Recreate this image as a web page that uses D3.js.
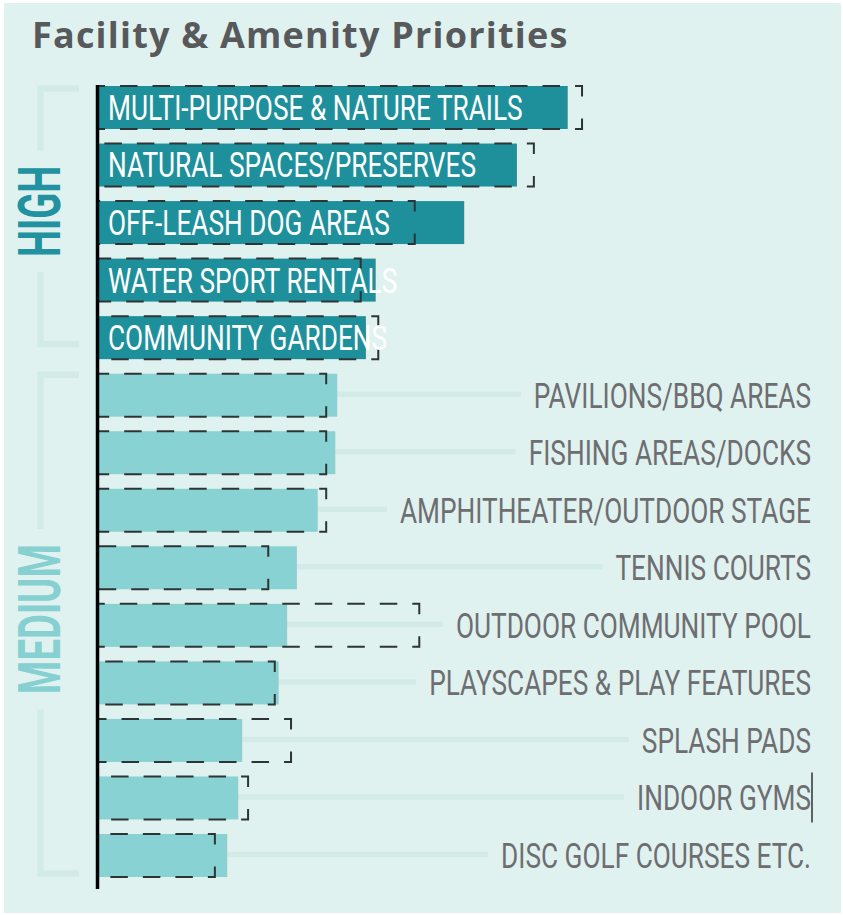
<!DOCTYPE html>
<html>
<head>
<meta charset="utf-8">
<script src="https://cdn.jsdelivr.net/npm/d3@7"></script>
<style>
  body { margin: 0; background: #fff; }
  svg { display: block; }
</style>
</head>
<body>
<svg id="chart" width="843" height="915"></svg>
<script>
// chart data
const title = 'Facility & Amenity Priorities';
const facilities = [
    'MULTI-PURPOSE & NATURE TRAILS',
    'NATURAL SPACES/PRESERVES',
    'OFF-LEASH DOG AREAS',
    'WATER SPORT RENTALS',
    'COMMUNITY GARDENS',
    'PAVILIONS/BBQ AREAS',
    'FISHING AREAS/DOCKS',
    'AMPHITHEATER/OUTDOOR STAGE',
    'TENNIS COURTS',
    'OUTDOOR COMMUNITY POOL',
    'PLAYSCAPES & PLAY FEATURES',
    'SPLASH PADS',
    'INDOOR GYMS',
    'DISC GOLF COURSES ETC.'
];
const priority = ['HIGH', 'HIGH', 'HIGH', 'HIGH', 'HIGH',
    'MEDIUM', 'MEDIUM', 'MEDIUM', 'MEDIUM', 'MEDIUM', 'MEDIUM', 'MEDIUM', 'MEDIUM', 'MEDIUM'];
const scores = [72.0, 64.2, 56.1, 42.5, 41.0, 36.6, 36.3, 33.6, 30.4, 28.9, 27.6, 22.0, 21.4, 19.7];
const benchmarks = [74.2, 66.8, 48.5, 40.2, 42.9, 34.9, 34.9, 34.9, 26.0, 49.2, 27.0, 29.5, 22.9, 17.8];
const groups = ['HIGH', 'MEDIUM'];
const cursorAfter = 'INDOOR GYMS';

const colors = {HIGH: '#1e909c', MEDIUM: '#88d2d3'};
const groupTextColors = {HIGH: '#2292a0', MEDIUM: '#87d0d1'};
const guideColor = '#d2ebe7';

const svg = d3.select('#chart');

// panel
svg.append('rect')
    .attr('x', 4).attr('y', 3)
    .attr('width', 837).attr('height', 910)
    .attr('fill', '#e0f2f0');

svg.append('text')
    .attr('x', 32).attr('y', 48)
    .attr('font-family', '"Open Sans", Lato, sans-serif')
    .attr('font-weight', 700)
    .attr('font-size', 36)
    .attr('letter-spacing', 1.2)
    .attr('fill', '#58595b')
    .text(title);

// scales
let x = d3.scaleLinear().domain([0, 100]).range([99, 750]);
let y = d3.scaleBand().domain(facilities).range([86, 877]).paddingInner(0.253).paddingOuter(0);
let bw = y.bandwidth();

let rows = facilities.map((name, i) => {
    return {name: name, group: priority[i], score: scores[i], bench: benchmarks[i]};
});

let guideLayer = svg.append('g');
let barLayer = svg.append('g');
let boxLayer = svg.append('g');
let labelLayer = svg.append('g');

// bars
barLayer.selectAll('rect')
    .data(rows)
    .enter().append('rect')
    .attr('x', x(0))
    .attr('y', d => y(d.name))
    .attr('width', d => x(d.score) - x(0))
    .attr('height', bw)
    .attr('fill', d => colors[d.group]);

// dashed benchmark boxes, dash phase anchored on the right edge
boxLayer.selectAll('path')
    .data(rows)
    .enter().append('path')
    .attr('d', d => {
        let top = y(d.name), bot = top + bw, mid = top + bw / 2;
        let x1 = x(d.bench), x0 = x(0);
        return `M${x1},${mid}V${top}H${x0}M${x1},${mid}V${bot}H${x0}`;
    })
    .attr('fill', 'none')
    .attr('stroke', '#2d3436')
    .attr('stroke-width', 2)
    .attr('stroke-dasharray', '17.5,15')
    .attr('stroke-dashoffset', 21.5);

// axis line
svg.append('line')
    .attr('x1', 97.5).attr('x2', 97.5)
    .attr('y1', y.range()[0] - 1).attr('y2', y.range()[1] + 12)
    .attr('stroke', '#000')
    .attr('stroke-width', 3.5);

// labels
const labelSize = 35, labelScale = 0.75;
const capHalf = labelSize * 0.711 / 2;
const labelRight = 811;

let labels = labelLayer.selectAll('g')
    .data(rows)
    .enter().append('g')
    .attr('transform', d => {
        let cy = y(d.name) + bw / 2 + capHalf;
        let tx = d.group === 'HIGH' ? 108 : labelRight;
        return `translate(${tx},${cy}) scale(${labelScale},1)`;
    });

labels.append('text')
    .attr('font-family', 'Roboto, "DejaVu Sans", sans-serif')
    .attr('font-size', labelSize)
    .attr('text-anchor', d => d.group === 'HIGH' ? 'start' : 'end')
    .attr('fill', d => d.group === 'HIGH' ? '#ffffff' : '#6e6e70')
    .text(d => d.name);

// guide lines from axis to the right-hand labels
labels.filter(d => d.group !== 'HIGH').each(function (d) {
    let w = d3.select(this).select('text').node().getComputedTextLength() * labelScale;
    let cy = y(d.name) + bw / 2 - 1;
    guideLayer.append('line')
        .attr('x1', x(0)).attr('x2', labelRight - w - 13)
        .attr('y1', cy).attr('y2', cy)
        .attr('stroke', guideColor)
        .attr('stroke-width', 5.5);
    if (d.name === cursorAfter) {
        svg.append('line')
            .attr('x1', labelRight + 1).attr('x2', labelRight + 1)
            .attr('y1', y(d.name) - 4).attr('y2', y(d.name) + bw + 3)
            .attr('stroke', '#333')
            .attr('stroke-width', 1.5);
    }
});

// priority brackets
const groupSize = 59, groupScale = 0.65;
const bracketInset = {HIGH: [2.5, 15], MEDIUM: [1, 3.5]};

groups.forEach(group => {
    let members = rows.filter(d => d.group === group);
    let top = y(members[0].name) + bracketInset[group][0];
    let bot = y(members[members.length - 1].name) + bw - bracketInset[group][1];
    let cy = (top + bot) / 2 - 5;

    let label = svg.append('g')
        .attr('transform', `translate(60,${cy}) rotate(-90) scale(${groupScale},1)`)
        .append('text')
        .attr('font-family', 'Roboto, "DejaVu Sans", sans-serif')
        .attr('font-weight', 700)
        .attr('font-size', groupSize)
        .attr('text-anchor', 'middle')
        .attr('fill', groupTextColors[group])
        .text(group);
    let half = label.node().getComputedTextLength() * groupScale / 2;

    svg.append('path')
        .attr('d', `M79,${top}H40.5V${cy - half - 15}M40.5,${cy + half + 15}V${bot}H79`)
        .attr('fill', 'none')
        .attr('stroke', guideColor)
        .attr('stroke-width', 6.5);
});
</script>
</body>
</html>
